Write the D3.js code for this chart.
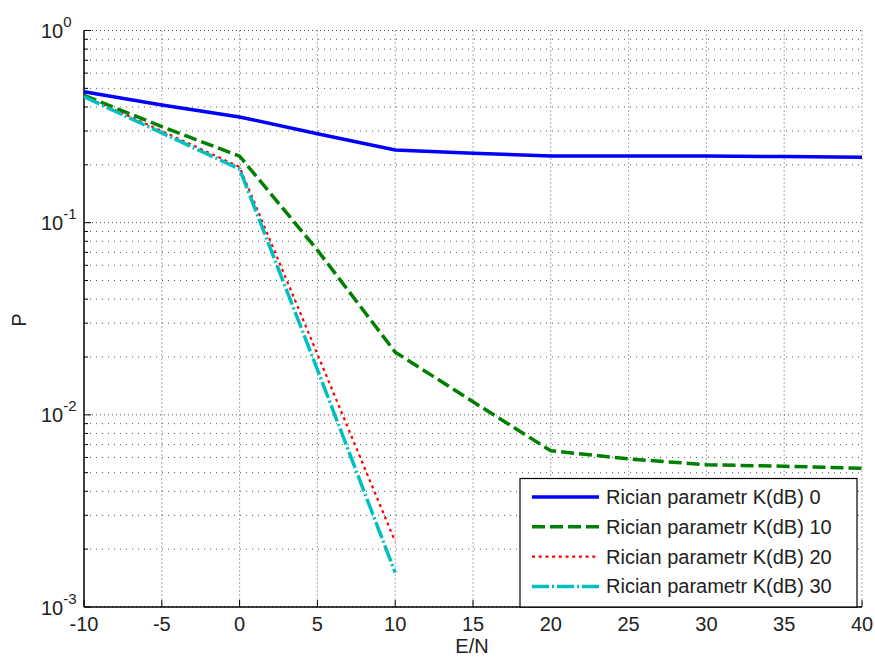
<!DOCTYPE html>
<html>
<head>
<meta charset="utf-8">
<script src="https://cdn.jsdelivr.net/npm/d3@7/dist/d3.min.js"></script>
<style>
  html, body { margin: 0; padding: 0; background: #fff; }
  svg text { font-family: "Liberation Sans", Arial, sans-serif; fill: #222; }
</style>
</head>
<body>
<svg id="chart" width="875" height="657"></svg>
<script>
// ---- data ----
const xValues = [-10, -5, 0, 5, 10, 15, 20, 25, 30, 35, 40];
const k0  = [0.48, 0.41, 0.355, 0.29, 0.239, 0.23, 0.222, 0.222, 0.222, 0.221, 0.219];
const k10 = [0.46, 0.316, 0.222, 0.072, 0.0212, 0.0117, 0.0065, 0.0059, 0.0055, 0.0054, 0.00527];
const xShort = [-10, -5, 0, 5, 10];
const k20 = [0.455, 0.30, 0.195, 0.0207, 0.00219];
const k30 = [0.452, 0.293, 0.19, 0.0172, 0.00151];
const xTicks = [-10, -5, 0, 5, 10, 15, 20, 25, 30, 35, 40];
const yDecades = [0, -1, -2, -3];
const seriesNames = ["Rician parametr K(dB) 0", "Rician parametr K(dB) 10", "Rician parametr K(dB) 20", "Rician parametr K(dB) 30"];

const svg = d3.select("#chart");
const L = 84, R = 862, T = 30.5, B = 607;
const x = d3.scaleLinear().domain([-10, 40]).range([L, R]);
const y = d3.scaleLog().domain([1e-3, 1]).range([B, T]);

// grid: horizontal (minor + major)
const yGrid = [];
for (let e = -3; e < 0; e++) for (let k = 1; k <= 9; k++) yGrid.push(k * Math.pow(10, e));
yGrid.push(1);
const isMajor = d => Math.abs(Math.log10(d) - Math.round(Math.log10(d))) < 1e-9;
svg.append("g").selectAll("line").data(yGrid).join("line")
  .attr("x1", L).attr("x2", R)
  .attr("y1", d => y(d)).attr("y2", d => y(d))
  .attr("stroke", "#555").attr("stroke-width", 1)
  .attr("stroke-dasharray", d => isMajor(d) ? "1,3" : "1,5");
// grid: vertical
svg.append("g").selectAll("line").data(xTicks.filter(d => d > -10)).join("line")
  .attr("x1", d => x(d)).attr("x2", d => x(d))
  .attr("y1", T).attr("y2", B)
  .attr("stroke", "#555").attr("stroke-width", 1)
  .attr("stroke-dasharray", "1,3");

// axes lines
svg.append("line").attr("x1", L).attr("x2", L).attr("y1", T).attr("y2", B).attr("stroke", "#000").attr("stroke-width", 1.5);
svg.append("line").attr("x1", L).attr("x2", R).attr("y1", B).attr("y2", B).attr("stroke", "#000").attr("stroke-width", 1.5);

// ticks
svg.append("g").selectAll("line").data(xTicks).join("line")
  .attr("x1", d => x(d)).attr("x2", d => x(d)).attr("y1", B).attr("y2", B - 7)
  .attr("stroke", "#000").attr("stroke-width", 1);
svg.append("g").selectAll("line").data(yGrid).join("line")
  .attr("x1", L).attr("x2", d => isMajor(d) ? L + 7 : L + 4)
  .attr("y1", d => y(d)).attr("y2", d => y(d))
  .attr("stroke", "#000").attr("stroke-width", 1);

// tick labels
svg.append("g").selectAll("text").data(xTicks).join("text")
  .attr("x", d => x(d)).attr("y", 631)
  .attr("text-anchor", "middle").attr("font-size", 20)
  .text(d => d);
const yl = svg.append("g").selectAll("text").data(yDecades).join("text")
  .attr("x", 41).attr("y", d => y(Math.pow(10, d)) + 7.5)
  .attr("font-size", 20);
yl.append("tspan").text("10");
yl.append("tspan").attr("font-size", 15).attr("dy", -11).text(d => d);

// axis titles
svg.append("text").attr("x", 472).attr("y", 653).attr("text-anchor", "middle").attr("font-size", 20).text("E/N");
svg.append("text").attr("transform", "translate(26,320) rotate(-90)").attr("text-anchor", "middle").attr("font-size", 20).text("P");

// lines
const styles = [
  { color: "#0000ff", width: 3.5, dash: null },
  { color: "#008000", width: 3.5, dash: "13,5" },
  { color: "#ff0000", width: 2.2, dash: "3,3.7" },
  { color: "#00bfbf", width: 3.5, dash: "17,3,2,3" }
];
const seriesData = [
  xValues.map((v, i) => [v, k0[i]]),
  xValues.map((v, i) => [v, k10[i]]),
  xShort.map((v, i) => [v, k20[i]]),
  xShort.map((v, i) => [v, k30[i]])
];
const line = d3.line().x(d => x(d[0])).y(d => y(d[1]));
seriesData.forEach((s, i) => {
  svg.append("path").datum(s).attr("d", line)
    .attr("fill", "none").attr("stroke", styles[i].color)
    .attr("stroke-width", styles[i].width)
    .attr("stroke-dasharray", styles[i].dash);
});

// legend
const lg = svg.append("g");
lg.append("rect").attr("x", 520).attr("y", 478.5).attr("width", 337).attr("height", 128.5)
  .attr("fill", "#fff").attr("stroke", "#000").attr("stroke-width", 1.2);
seriesNames.forEach((name, i) => {
  const cy = 497 + i * 29.8;
  lg.append("line").attr("x1", 532).attr("x2", 599).attr("y1", cy).attr("y2", cy)
    .attr("stroke", styles[i].color).attr("stroke-width", styles[i].width)
    .attr("stroke-dasharray", styles[i].dash);
  lg.append("text").attr("x", 606).attr("y", cy + 7).attr("font-size", 20).text(name);
});
</script>
</body>
</html>
